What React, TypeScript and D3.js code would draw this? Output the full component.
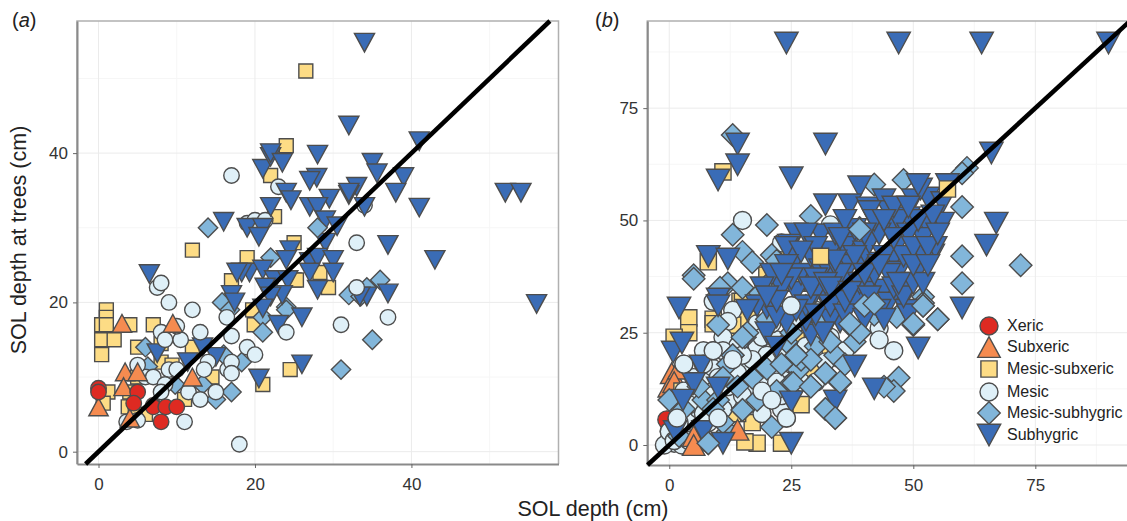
import { useEffect, useRef } from "react";
import * as d3 from "d3";

type Pt = [number, number];

// panel (a) values
const xericA: Pt[] = [[0, 8.5], [0, 8], [5, 8], [4.5, 6.5], [7, 6.2], [7, 6], [8.6, 6], [10, 6], [8, 4]];
const subxericA: Pt[] = [[3, 17.2], [9.5, 17.2], [3.4, 10.7], [3.2, 8.7], [5, 10.7], [12, 10], [0, 6], [4, 4.5]];
const mesicSubxericA: Pt[] = [
  [26.5, 51], [24, 41], [22, 37], [22.5, 31.5], [25, 28], [12, 27], [19, 26], [17, 22.9], [25, 23], [28.3, 24],
  [25.3, 23], [29.4, 22], [19.7, 19], [19.9, 17], [24.5, 11], [21, 9], [1, 19], [1, 18], [0.4, 17], [1, 17],
  [0.4, 15], [2, 15], [0.4, 13], [7, 17], [5, 14], [8, 14.5], [12, 14], [8, 12], [9.4, 11.6], [14.5, 10], [1.2, 8],
  [0.6, 6.5], [4, 17], [5, 10], [4, 8], [3.8, 6], [6, 5], [4.7, 5], [11, 7],
];
const mesicUnderA: Pt[] = [[19, 30.6], [20, 31], [21.3, 31], [23, 35.5], [34, 33]];
const mesicA: Pt[] = [
  [17, 37], [33, 28], [33, 22], [37, 18], [31, 17], [7.5, 22], [8, 22.6], [9, 20], [12, 19], [13, 16], [8, 16],
  [8.5, 15], [10.5, 15], [10, 16.8], [17, 15.5], [19, 14], [20, 13], [16.4, 18], [24, 16], [14, 12], [16.5, 11],
  [17, 12], [17, 10.5], [13.5, 11], [9, 11], [6, 10], [7, 10], [5, 11.6], [8.5, 9], [11.5, 8], [13, 7], [15, 8],
  [8, 8], [10, 11], [11, 4], [3.6, 4], [5, 4.2], [18, 1],
];
const mesicSubhygricA: Pt[] = [
  [14, 30], [22, 26], [36, 23], [32, 21], [34.3, 22], [33.5, 20.8], [24, 19.4], [35, 15], [31, 11], [15.8, 20],
  [16.8, 19], [24, 19], [21, 18], [21, 16], [6, 14], [16, 13], [18.3, 12], [13.3, 9], [17, 8], [15, 7], [9.8, 9],
  [6.3, 11.4],
];
const mesicSubhygricTopA: Pt[] = [[28, 30]];
const subhygricA: Pt[] = [
  [34, 54.8], [32, 43.7], [41, 41.6], [52, 34.7], [54, 34.7], [28, 39.8], [35, 38.7], [35.6, 37.3], [39, 36.8],
  [38, 34.7], [41, 32.7], [27.9, 36.7], [27, 36.3], [33, 35.5], [32, 34.4], [32, 34.7], [29.5, 33.9], [27, 32.8],
  [28, 32.8], [34, 32.8], [29, 31], [30.5, 30.2], [29, 28], [37, 27.7], [16, 30.8], [19, 30], [21, 30], [20.5, 28.8],
  [22, 32.8], [24, 34.7], [24.6, 33.7], [21, 37.9], [22, 39.5], [22, 40], [23.5, 38.7], [24.5, 27], [24, 25.7],
  [27, 25.4], [28, 26], [30, 25.7], [30, 24], [27, 24], [28, 21.7], [37, 21.2], [34.3, 20.8], [33.4, 20.8],
  [19.3, 24], [21, 24.4], [22.5, 23], [24.2, 23], [21.3, 22], [23.5, 21], [22, 20.8], [18.3, 24], [21, 19.2],
  [26, 18], [26, 11.7], [20.5, 9.8], [6.5, 23.8], [56, 19.8], [43, 25.7], [17, 21], [17.4, 20], [17.7, 24],
  [23, 17], [13.3, 14], [7.5, 13.2], [11.4, 12], [15, 12.7],
];

// panel (b) values
const xericB: Pt[] = [[-0.5, 5.6], [0, 3], [0, 1], [3, 0]];
const subxericB: Pt[] = [
  [0.5, 16], [0, 13], [2, 17], [17, 10], [1, 14], [6, 1], [3, 3],
];
const subxericTopB: Pt[] = [[14, 3.4], [5, 2], [5, 0]];
const mesicSubxericB: Pt[] = [
  [11, 60.8], [8, 40.8], [20, 37.8], [14.5, 32], [4, 28.3], [9, 28], [4, 25], [1, 24], [9, 27], [12, 24], [16, 28],
  [17, 20], [33, 20.5], [17, 5], [18, 0.4], [15.5, 0.7], [23, 0.4], [27, 9], [2.6, 12], [19, 13], [14, 7], [15, 32],
  [13, 26.7], [30, 17], [29, 16], [26, 36], [29.5, 36], [42, 33], [24, 42.7], [26, 24.5], [13, 7], [25, 38], [34, 37],
];
const mesicB: Pt[] = [
  [15, 50], [33, 49], [9, 32], [13, 30], [25, 31], [12, 27.5], [18, 27], [9, 21], [7, 21], [3, 18], [9, 17], [13, 19],
  [13, 15], [18, 22], [22, 23.4], [22, 17], [21, 15], [19, 12], [15, 13.8], [14, 10.7], [21, 10], [23, 8], [24, 6],
  [19, 7], [10, 6], [5, 6], [1.6, 6], [1, 0.4], [2.6, 0], [-1, 0], [8, 5], [33, 24], [32, 18.5], [43, 26], [43, 23.4],
  [46, 21], [23, 17], [5, 12], [7, 14], [11, 24], [16, 17], [17, 12], [20, 20], [24, 12], [26, 27], [28, 22], [30, 30],
  [36, 21], [3, 3], [6, 8], [4, 9], [12, 10], [9, 12], [16, 9], [14, 22], [21, 27], [24, 38], [28, 40], [23, 45],
  [0, 3], [1, 1], [4, 1], [2, 9], [3, 12], [6, 4], [7, 7], [8, 11], [10, 15], [11, 8], [12, 13], [14, 16], [15, 11],
  [18, 16], [17, 19], [20, 14], [22, 14], [23, 11], [25, 18], [27, 14], [2, 5], [5, 15], [7, 18], [11, 21], [15, 20],
  [19, 24], [23, 21], [30, 14],
];
const mesicSubhygricB: Pt[] = [
  [29, 51], [20, 49], [13, 46.8], [15, 43], [17, 40.7], [21, 42.3], [22, 41], [5, 37.8], [5, 37], [12, 36], [15, 35],
  [39, 48.3], [35, 31.6], [40, 30.8], [20, 35.6], [18.6, 33.8], [10.4, 35], [13, 69], [42, 58], [48, 59], [52, 33],
  [61, 61.7], [60, 60.5], [60, 53], [60, 42], [60, 36], [72, 40], [52, 31.6], [52, 31], [55, 28], [50, 26.7],
  [46.6, 28.5], [47, 15], [46, 12], [44, 13], [35, 32], [39, 25], [26, 20], [26.5, 16.7], [25, 13.8], [29, 13], [32, 16],
  [35, 13.8], [32, 8], [34, 6], [37, 26.7], [15, 7.8], [21, 4], [8, 0.4], [13, 20], [10, 26.7], [15.5, 24], [7, 10],
  [0, 10], [25.4, 13.8], [10, 10], [18, 10], [22, 12], [12, 18], [16, 25], [20, 28], [24, 23], [28, 31], [30, 22],
  [34, 20], [38, 23], [36, 34], [42, 29], [3, 8], [6, 13], [9, 8], [11, 15], [14, 13], [17, 15], [20, 17], [23, 18],
  [25, 25], [27, 19], [29, 19], [31, 27], [33, 23], [36, 18], [2, 2], [12, 3], [11, 5],
];
const subhygricB: Pt[] = [
  [24, 89.5], [47, 89.5], [64, 89.5], [90, 89.5], [32, 67], [66, 65], [14, 67], [14, 62.4], [10, 59], [25, 59.5],
  [8, 42], [12, 41.4], [2, 30.5], [10, 32.5], [39, 57.5], [32, 53.5], [37, 53.5], [26, 47], [31, 46.8], [24.6, 44.5],
  [40.7, 52.8], [44, 54.6], [45, 52], [41, 52], [50, 54.6], [53, 55], [56, 54], [51.5, 57], [45, 48], [53, 48.6],
  [56, 49.4], [49, 50.6], [37, 45], [35, 41.6], [26, 41.6], [24, 44], [28, 37.5], [34, 37.5], [39, 39.7], [42.5, 40.5],
  [46, 41.6], [52, 42.3], [54, 42.3], [52, 46], [41, 36.3], [47, 38.5], [49, 34.5], [44, 34.5], [40, 34], [26, 34],
  [31.5, 33.4], [35.6, 33.8], [45, 31.6], [35, 27.4], [29, 24.5], [38, 17.6], [51, 21.6], [42, 12.5], [25, 9.6],
  [34, 9.8], [48.6, 30], [28, 27.8], [33, 27.8], [24, 27.2], [31.5, 25], [67, 49.4], [65, 44.5], [60, 30.5], [51, 58],
  [57, 58], [54.5, 44], [49, 29], [0.8, 20.7], [2.6, 22.7], [6.5, 17.6], [5, 13.7], [10, 12.7], [2.8, 10], [1.2, 3],
  [7, 3], [11, 0.4], [25, 0.4], [20, 25], [10, 31], [20, 30.5], [22, 28.5], [22, 21.8],
  [27, 38], [29, 42], [30, 34], [31, 39], [33, 43], [34, 47], [36, 44], [36, 36], [37, 40], [38, 32], [38, 48], [39, 36],
  [40, 43], [41, 45], [42, 38], [43, 47], [43, 30], [44, 42], [45, 38], [46, 35], [47, 45], [47, 50], [48, 42], [48, 33],
  [49, 47], [50, 44], [50, 36], [51, 50], [51, 39], [52, 36], [53, 44], [54, 51], [46, 53], [42, 50], [36, 50], [28, 31],
  [30, 29], [33, 31], [36, 29], [25, 37], [23, 35], [22, 32], [21, 38], [19, 35], [18, 31], [28, 47],
  [30, 44], [32, 40], [27, 43], [24, 40], [35, 38], [38, 42], [40, 38], [43, 40], [46, 46], [44, 50], [40, 47], [34, 41],
  [30, 37], [26, 30], [29, 35], [32, 36], [36, 32], [40, 28], [44, 28], [35, 46], [47, 36], [50, 40], [53, 40], [49, 53],
  [55, 47], [33, 35], [37, 34], [41, 33], [23, 38], [20, 33], [16, 30],
];
const mesicSubxericTopB: Pt[] = [[31, 42], [57, 57]];
const mesicSubhygricTopB: Pt[] = [
  [39, 48], [40, 31], [26, 20], [29, 13], [35, 14], [32, 16], [32, 8], [34, 6], [15, 24], [13, 20], [15, 7.8], [8, 0.4],
  [52, 31], [55, 28], [50, 27], [39, 25], [37, 27], [42, 31.5],
];
const mesicTopB: Pt[] = [[13, 19], [19, 12], [3, 18], [1.6, 6], [10, 6], [21, 10], [24, 6], [9, 21], [25, 31]];

const legendLabels = ["Xeric", "Subxeric", "Mesic-subxeric", "Mesic", "Mesic-subhygric", "Subhygric"];
const legendY = [326, 347, 369, 392, 413, 435];

const ticksA = [0, 20, 40];
const minorA = [10, 30, 50];
const ticksB = [0, 25, 50, 75];
const minorB = [12.5, 37.5, 62.5, 87.5];

const colors = {
  xeric: "#de2a22",
  subxeric: "#f58b50",
  square: "#fddc85",
  mesic: "#dff0f8",
  diamond: "#82b6da",
  subhygric: "#3a6cb6",
};
const edge = "#4d4d4d";

// triangle centred on its bounding box, dir flips it
const triangle = (dir: number) => ({
  draw(ctx: any, size: number) {
    const w = size / 2;
    const h = size * 0.46;
    ctx.moveTo(-w, -dir * h);
    ctx.lineTo(w, -dir * h);
    ctx.lineTo(0, dir * h);
    ctx.closePath();
  },
});
const diamond = {
  draw(ctx: any, size: number) {
    const r = size / 2;
    ctx.moveTo(0, -r);
    ctx.lineTo(r, 0);
    ctx.lineTo(0, r);
    ctx.lineTo(-r, 0);
    ctx.closePath();
  },
};
const square = {
  draw(ctx: any, size: number) {
    ctx.rect(-size / 2, -size / 2, size, size);
  },
};
const circle = {
  draw(ctx: any, size: number) {
    ctx.moveTo(size / 2, 0);
    ctx.arc(0, 0, size / 2, 0, Math.PI * 2);
  },
};

const shapes: any = {
  xeric: { type: circle, fill: colors.xeric, k: 1 },
  subxeric: { type: triangle(-1), fill: colors.subxeric, k: 1.25 },
  square: { type: square, fill: colors.square, k: 0.9 },
  mesic: { type: circle, fill: colors.mesic, k: 1 },
  diamond: { type: diamond, fill: colors.diamond, k: 1.25 },
  subhygric: { type: triangle(1), fill: colors.subhygric, k: 1.3 },
};

const layersA: [string, Pt[]][] = [
  ["square", mesicSubxericA],
  ["mesic", mesicUnderA],
  ["diamond", mesicSubhygricA],
  ["subhygric", subhygricA],
  ["diamond", mesicSubhygricTopA],
  ["mesic", mesicA],
  ["subxeric", subxericA],
  ["xeric", xericA],
];
const layersB: [string, Pt[]][] = [
  ["xeric", xericB],
  ["subxeric", subxericB],
  ["square", mesicSubxericB],
  ["mesic", mesicB],
  ["diamond", mesicSubhygricB],
  ["subxeric", subxericTopB],
  ["subhygric", subhygricB],
  ["square", mesicSubxericTopB],
  ["diamond", mesicSubhygricTopB],
  ["mesic", mesicTopB],
];

function drawPanel(svg: any, o: any) {
  const x = d3.scaleLinear().domain(o.xDomain).range([o.left, o.right]);
  const y = d3.scaleLinear().domain(o.yDomain).range([o.bottom, o.top]);
  const g = svg.append("g");

  g.append("rect")
    .attr("x", o.left)
    .attr("y", o.top)
    .attr("width", o.right - o.left)
    .attr("height", o.bottom - o.top)
    .attr("fill", "white");

  // grid
  const grid = (vals: number[], col: string, w: number) => {
    g.selectAll(null).data(vals).join("line")
      .attr("x1", (d: number) => x(d)).attr("x2", (d: number) => x(d))
      .attr("y1", o.top).attr("y2", o.bottom)
      .attr("stroke", col).attr("stroke-width", w);
    g.selectAll(null).data(vals).join("line")
      .attr("y1", (d: number) => y(d)).attr("y2", (d: number) => y(d))
      .attr("x1", o.left).attr("x2", o.right)
      .attr("stroke", col).attr("stroke-width", w);
  };
  grid(o.minor, "#f6f6f6", 1);
  grid(o.ticks, "#ebebeb", 1);

  // border
  g.append("path")
    .attr("d", `M${o.left},${o.bottom}V${o.top}H${o.right}V${o.bottom}`)
    .attr("fill", "none").attr("stroke", "#b0b0b0").attr("stroke-width", 1.5);

  const xAxis = d3.axisBottom(x).tickValues(o.ticks).tickSize(4).tickSizeOuter(0).tickPadding(10).tickFormat(d3.format("d") as any);
  const yAxis = d3.axisLeft(y).tickValues(o.ticks).tickSize(4).tickSizeOuter(0).tickPadding(5).tickFormat(d3.format("d") as any);
  const styleAxis = (a: any) => {
    a.selectAll("text").attr("font-size", 17).attr("fill", "#333").attr("font-family", "Liberation Sans");
    a.selectAll("line").attr("stroke", "#666");
    a.select(".domain").attr("stroke", "#8a8a8a").attr("stroke-width", 2);
  };
  g.append("g").attr("transform", `translate(0,${o.bottom})`).call(xAxis).call(styleAxis);
  g.append("g").attr("transform", `translate(${o.left},0)`).call(yAxis).call(styleAxis);

  // points
  o.layers.forEach(([key, pts]: [string, Pt[]]) => {
    const s = shapes[key];
    const path = d3.symbol().type(s.type).size(o.size * s.k)();
    g.append("g").selectAll("path").data(pts).join("path")
      .attr("d", path)
      .attr("transform", (d: Pt) => `translate(${x(d[0])},${y(d[1])})`)
      .attr("fill", s.fill)
      .attr("stroke", edge)
      .attr("stroke-width", 1.4);
  });

  // 1:1 line
  const lo = Math.max(o.xDomain[0], o.yDomain[0]);
  const hi = Math.min(o.xDomain[1], o.yDomain[1]);
  const oneToOne = d3.line<number>().x((d) => x(d)).y((d) => y(d));
  g.append("path")
    .attr("d", oneToOne([lo, hi]))
    .attr("stroke", "black").attr("stroke-width", 4.5).attr("fill", "none");

  // panel letter
  const tag = g.append("text").attr("x", o.tagX).attr("y", 27).attr("font-size", 20)
    .attr("font-family", "Liberation Sans").attr("fill", "#222");
  tag.append("tspan").text("(");
  tag.append("tspan").attr("font-style", "italic").text(o.tag);
  tag.append("tspan").text(")");
}

export default function App() {
  const ref = useRef<SVGSVGElement>(null);

  useEffect(() => {
    const svg = d3.select(ref.current);
    svg.selectAll("*").remove();

    drawPanel(svg, {
      xDomain: [-2.75, 58.8], yDomain: [-1.65, 57.7],
      left: 77, right: 558.5, top: 21, bottom: 464,
      ticks: ticksA, minor: minorA, layers: layersA, size: 15.5, tag: "a", tagX: 12,
    });
    drawPanel(svg, {
      xDomain: [-4.5, 94.4], yDomain: [-4.45, 94.4],
      left: 647.3, right: 1130, top: 21, bottom: 465,
      ticks: ticksB, minor: minorB, layers: layersB, size: 18, tag: "b", tagX: 595,
    });

    // shared axis titles
    svg.append("text").attr("x", 593).attr("y", 516).attr("text-anchor", "middle")
      .attr("font-size", 21.5).attr("font-family", "Liberation Sans").attr("fill", "#222")
      .text("SOL depth (cm)");
    svg.append("text").attr("transform", "translate(26,240) rotate(-90)").attr("text-anchor", "middle")
      .attr("font-size", 21.5).attr("font-family", "Liberation Sans").attr("fill", "#222")
      .text("SOL depth at trees (cm)");

    // legend
    const keys = ["xeric", "subxeric", "square", "mesic", "diamond", "subhygric"];
    const legend = svg.append("g");
    keys.forEach((key, i) => {
      const s = shapes[key];
      legend.append("path")
        .attr("d", d3.symbol().type(s.type).size(18 * s.k)())
        .attr("transform", `translate(989,${legendY[i]})`)
        .attr("fill", s.fill).attr("stroke", edge).attr("stroke-width", 1.4);
      legend.append("text").attr("x", 1007).attr("y", legendY[i] + 5)
        .attr("font-size", 16).attr("font-family", "Liberation Sans").attr("fill", "#222")
        .text(legendLabels[i]);
    });
  }, []);

  return (
    <svg
      ref={ref}
      width={1127}
      height={521}
      style={{ position: "absolute", left: 0, top: 0, display: "block" }}
    />
  );
}
